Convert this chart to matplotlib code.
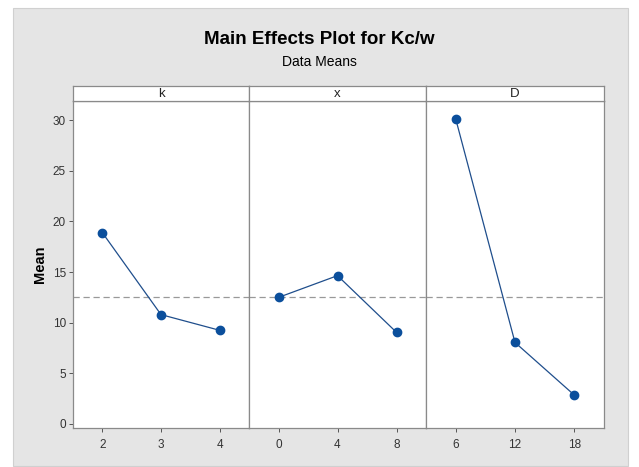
import matplotlib.pyplot as plt
from matplotlib.patches import Rectangle

# data
factors = ['k', 'x', 'D']
levels = [[2, 3, 4], [0, 4, 8], [6, 12, 18]]
means = [[18.9, 10.8, 9.25], [12.5, 14.65, 9.05], [30.15, 8.05, 2.85]]
grand_mean = 12.5
xlims = [(1.5, 4.5), (-2, 10), (3, 21)]
yticks = [0, 5, 10, 15, 20, 25, 30]

plt.rcParams['font.family'] = ['Liberation Sans', 'DejaVu Sans']

W, H = 639, 467
fig = plt.figure(figsize=(W / 100, H / 100), dpi=100, facecolor='white')

# grey background panel
fig.patches.append(Rectangle((13 / W, 1 - 466 / H), 615 / W, 458 / H,
                             transform=fig.transFigure, facecolor='#e5e5e5',
                             edgecolor='#d0d0d0', lw=0.8, zorder=-5))

fig.text(0.5, 1 - 40 / H, 'Main Effects Plot for Kc/w', ha='center', va='center',
         fontsize=13.5, fontweight='bold')
fig.text(0.5, 1 - 62 / H, 'Data Means', ha='center', va='center', fontsize=10)

edges = [73, 249, 426, 604]
top, bottom, strip_top = 101, 428, 86
edge_col = '#8a8a8a'
axes = []
for i in range(3):
    x0, x1 = edges[i], edges[i + 1]
    ax = fig.add_axes([x0 / W, 1 - bottom / H, (x1 - x0) / W, (bottom - top) / H])
    ax.set_facecolor('white')
    ax.plot(levels[i], means[i], color='#1f4e8c', lw=0.9, marker='o', ms=6,
            markerfacecolor='#0b4f9c', markeredgecolor='#0b4f9c', zorder=3)
    ax.axhline(grand_mean, color='#999999', lw=0.9, ls=(0, (5, 3)), zorder=2)
    ax.set_xlim(*xlims[i])
    ax.set_ylim(-0.4, 31.9)
    ax.set_xticks(levels[i])
    ax.set_yticks(yticks)
    for s in ax.spines.values():
        s.set_color(edge_col)
        s.set_linewidth(0.9)
    ax.tick_params(axis='both', colors='#555555', labelcolor='#333333', labelsize=8.5,
                   length=3, width=0.7, direction='out')
    ax.tick_params(axis='x', pad=5)
    ax.tick_params(axis='y', pad=2)
    if i > 0:
        ax.tick_params(axis='y', left=False, labelleft=False)
    # strip header
    sax = fig.add_axes([x0 / W, 1 - top / H, (x1 - x0) / W, (top - strip_top) / H])
    sax.set_facecolor('white')
    sax.set_xticks([])
    sax.set_yticks([])
    for s in sax.spines.values():
        s.set_color(edge_col)
        s.set_linewidth(0.9)
    sax.text(0.5, 0.45, factors[i], ha='center', va='center', fontsize=9.5,
             color='#222222', transform=sax.transAxes)
    axes.append(ax)

axes[0].set_ylabel('Mean', fontsize=10.5, fontweight='bold', labelpad=4)

fig.savefig('out.png', dpi=100, facecolor='white')
